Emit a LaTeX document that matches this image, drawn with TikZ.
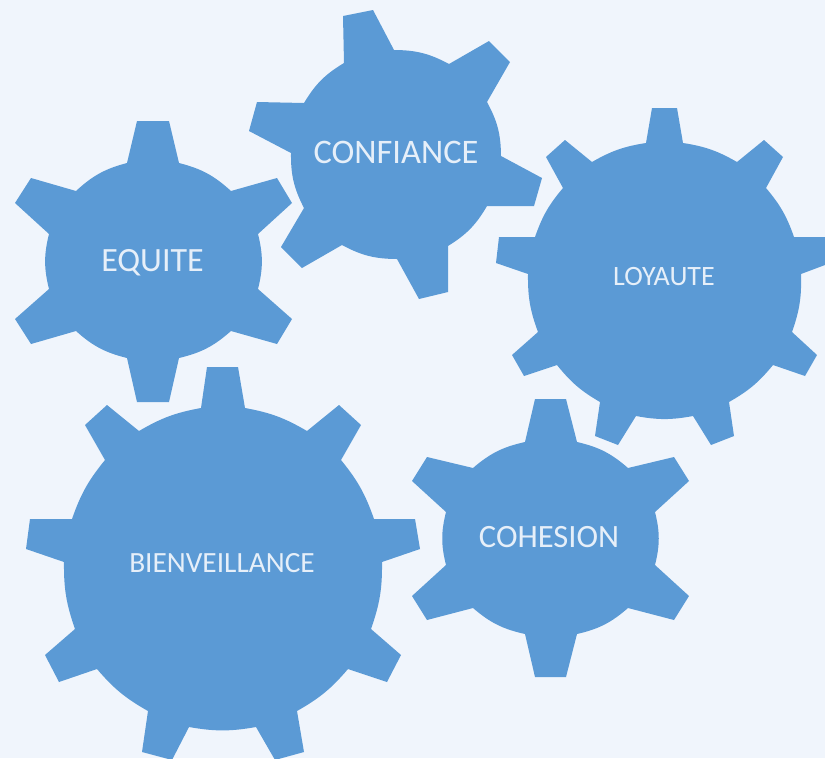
\documentclass[tikz,border=0pt]{standalone}
\usepackage{fontspec}
\setmainfont{Carlito}
\definecolor{gearblue}{HTML}{5B9AD5}
\definecolor{paper}{HTML}{F0F5FC}
\definecolor{labeltext}{HTML}{E6EFF9}
\tikzset{
  gearbody/.style={fill=gearblue,draw=none},
  gearlabel/.style={text=labeltext,inner sep=0pt,anchor=base,font=\fontsize{#1}{#1}\selectfont},
  rim/.style={bend left=#1},
}
\begin{document}
\begin{tikzpicture}[x=0.75pt,y=-0.75pt]
\useasboundingbox (0,0) rectangle (825,758);
\fill[paper] (0,0) rectangle (825,758);
% EQUITE
\fill[gearbody] (127,163) -- (137,121) -- (169,121) -- (179,163)
  to[rim=14] (231,191) -- (277,178) -- (292,203) -- (258,234)
  to[rim=14] (258,289) -- (292,319) -- (277,344) -- (231,331)
  to[rim=14] (179,358) -- (169,402) -- (137,402) -- (127,358)
  to[rim=14] (76,331) -- (31,344) -- (15,319) -- (49,289)
  to[rim=14] (49,234) -- (15,203) -- (31,178) -- (76,191)
  to[rim=14] cycle;
\node[gearlabel=25.5] (equite) at (152.5,271) {EQUITE};
% CONFIANCE
\fill[gearbody] (344,63) -- (343,16) -- (373,10) -- (394,50)
  to[rim=14] (449,64) -- (489,41) -- (510,62) -- (487,102)
  to[rim=14] (501,156) -- (542,178) -- (534,206) -- (487,206)
  to[rim=14] (448,246) -- (448,292) -- (419,299) -- (397,259)
  to[rim=14] (342,245) -- (302,268) -- (281,247) -- (304,208)
  to[rim=14] (291,153) -- (249,131) -- (257,102) -- (304,103)
  to[rim=14] cycle;
\node[gearlabel=25.8] (confiance) at (396,163) {CONFIANCE};
% LOYAUTE
\fill[gearbody] (646,143) -- (652,108) -- (677,108) -- (683,143)
  to[rim=10.5] (737,162) -- (764,140) -- (783,157) -- (766,188)
  to[rim=10.5] (794,237) -- (825,237) -- (825,265) -- (801,274)
  to[rim=10.5] (792,332) -- (817,355) -- (805,376) -- (773,365)
  to[rim=10.5] (729,402) -- (734,436) -- (711,445) -- (693,416)
  to[rim=10.5] (636,416) -- (618,445) -- (595,436) -- (600,402)
  to[rim=10.5] (557,365) -- (524,376) -- (512,355) -- (538,332)
  to[rim=10.5] (528,274) -- (496,263) -- (499,237) -- (535,237)
  to[rim=10.5] (563,188) -- (546,157) -- (565,140) -- (592,162)
  to[rim=10.5] cycle;
\node[gearlabel=21] (loyaute) at (664,285) {LOYAUTE};
% COHESION
\fill[gearbody] (525,442) -- (535,399) -- (566,399) -- (577,442)
  to[rim=14] (628,468) -- (674,457) -- (689,481) -- (655,512)
  to[rim=14] (655,565) -- (689,596) -- (674,620) -- (628,608)
  to[rim=14] (577,634) -- (566,677) -- (535,677) -- (525,634)
  to[rim=14] (473,608) -- (427,620) -- (412,596) -- (446,565)
  to[rim=14] (446,512) -- (412,481) -- (427,457) -- (473,468)
  to[rim=14] cycle;
\node[gearlabel=24.4] (cohesion) at (549,547) {COHESION};
% BIENVEILLANCE
\fill[gearbody] (201,408) -- (207,367) -- (238,367) -- (245,408)
  to[rim=10] (307,431) -- (339,405) -- (361,425) -- (341,460)
  to[rim=10] (374,519) -- (415,519) -- (420,549) -- (382,562)
  to[rim=10] (371,629) -- (401,655) -- (387,682) -- (348,669)
  to[rim=10] (297,711) -- (304,752) -- (275,760) -- (256,727)
  to[rim=10] (189,727) -- (172,760) -- (142,752) -- (148,711)
  to[rim=10] (97,669) -- (59,682) -- (45,655) -- (75,629)
  to[rim=10] (64,562) -- (26,549) -- (30,519) -- (72,519)
  to[rim=10] (105,460) -- (85,425) -- (107,405) -- (139,431)
  to[rim=10] cycle;
\node[gearlabel=22] (bienveillance) at (222,572) {BIENVEILLANCE};
\end{tikzpicture}
\end{document}
